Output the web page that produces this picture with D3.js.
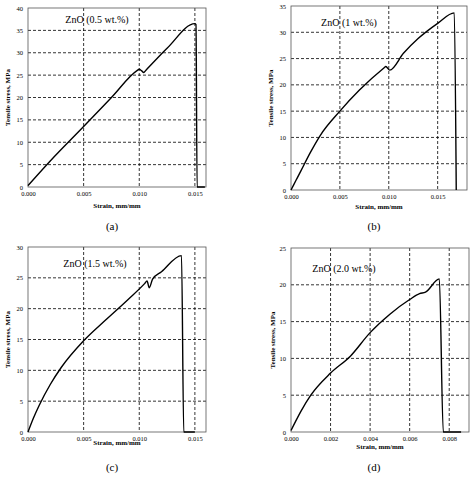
<!DOCTYPE html>
<html><head><meta charset="utf-8">
<script src="https://cdn.jsdelivr.net/npm/d3@7"></script>
<style>body{margin:0;background:#fff}svg text{font-family:"Liberation Serif","DejaVu Serif",serif}</style>
</head><body>
<svg id="c" width="474" height="477"></svg>
<script>
const strainA=[0,0.002,0.005,0.0075,0.0098,0.0100,0.0102,0.0104,0.0106,0.0125,0.0150,0.0151,0.0152,0.0159];
const stressA=[0.3,5.8,13.5,20,26,26.3,26.0,25.6,26.1,31,36.5,36.3,0,0];
const strainB=[0,0.0005,0.001,0.002,0.003,0.005,0.007,0.0095,0.0097,0.0101,0.0115,0.013,0.015,0.0167,0.0169];
const stressB=[0,1.8,3.6,7.2,10.4,15,19,23.2,23.5,22.8,26,28.8,31.7,33.7,0];
const strainC=[0,0.0005,0.001,0.002,0.003,0.005,0.007,0.009,0.0105,0.0107,0.0109,0.0112,0.012,0.0138,0.0140,0.0150];
const stressC=[0,2.3,4.3,7.7,10.5,14.8,18.2,21.5,24.1,24.5,23.4,24.8,26,28.6,0,0];
const strainD=[0,0.0005,0.001,0.002,0.003,0.004,0.005,0.006,0.0065,0.0068,0.0075,0.0077,0.0086];
const stressD=[0.2,2.8,5,8,10.3,13.5,16,18,18.8,19,20.8,0,0];
const xTicksA=[0,0.005,0.010,0.015], xTicksD=[0,0.002,0.004,0.006,0.008];
const titles=["ZnO (0.5 wt.%)","ZnO (1 wt.%)","ZnO (1.5 wt.%)","ZnO (2.0 wt.%)"];
const labels=["(a)","(b)","(c)","(d)"];
const svg=d3.select("#c");
const panels=[
 {xs:strainA,ys:stressA,xd:0.016,yd:40,xt:xTicksA,l:28,r:206,t:8,b:187,ty:23,tx:97,yl:8,xl:208,lab:[112,230]},
 {xs:strainB,ys:stressB,xd:0.018,yd:35,xt:xTicksA,l:291,r:467,t:6,b:190,ty:26,tx:349,yl:271,xl:209,lab:[374,230]},
 {xs:strainC,ys:stressC,xd:0.016,yd:30,xt:xTicksA,l:28,r:206,t:247,b:432,ty:267,tx:95,yl:8,xl:445,lab:[112,471]},
 {xs:strainD,ys:stressD,xd:0.009,yd:25,xt:xTicksD,l:291,r:469,t:248,b:432,ty:272,tx:344,yl:273,xl:449,lab:[374,471]}
];
panels.forEach((p,i)=>{
 const x=d3.scaleLinear().domain([0,p.xd]).range([p.l,p.r]);
 const y=d3.scaleLinear().domain([0,p.yd]).range([p.b,p.t]);
 const g=svg.append("g");
 const yt=d3.range(0,p.yd+0.1,5);
 g.selectAll(".gy").data(yt.slice(1,-1)).join("line").attr("x1",p.l).attr("x2",p.r).attr("y1",d=>y(d)).attr("y2",d=>y(d)).attr("stroke","#000").attr("stroke-width",0.8).attr("stroke-dasharray","3,2");
 g.selectAll(".gx").data(p.xt.slice(1)).join("line").attr("x1",d=>x(d)).attr("x2",d=>x(d)).attr("y1",p.t).attr("y2",p.b).attr("stroke","#000").attr("stroke-width",0.8).attr("stroke-dasharray","3,2");
 g.append("rect").attr("x",p.l).attr("y",p.t).attr("width",p.r-p.l).attr("height",p.b-p.t).attr("fill","none").attr("stroke","#555").attr("stroke-width",0.8);
 const ax=g.append("g").attr("transform",`translate(0,${p.b})`).call(d3.axisBottom(x).tickValues(p.xt).tickFormat(d3.format(".3f")).tickSize(0).tickPadding(4));
 const ay=g.append("g").attr("transform",`translate(${p.l},0)`).call(d3.axisLeft(y).tickValues(yt).tickSize(0).tickPadding(5));
 [ax,ay].forEach(a=>{a.select(".domain").remove();a.selectAll("text").attr("font-size",6.5).attr("font-family","Liberation Serif");});
 g.append("path").datum(p.xs.map((v,k)=>[v,p.ys[k]])).attr("d",d3.line().curve(d3.curveMonotoneX).x(d=>x(d[0])).y(d=>y(d[1]))).attr("fill","none").attr("stroke","#000").attr("stroke-width",1.4);
 g.append("text").attr("x",p.tx).attr("y",p.ty).attr("text-anchor","middle").attr("font-size",10).text(titles[i]);
 g.append("text").attr("transform",`translate(${p.yl},${(p.t+p.b)/2}) rotate(-90)`).attr("text-anchor","middle").attr("font-size",7).attr("font-weight","bold").attr("dy","0.35em").text("Tensile stress, MPa");
 g.append("text").attr("x",(p.l+p.r)/2).attr("y",p.xl).attr("text-anchor","middle").attr("font-size",7).attr("font-weight","bold").text("Strain, mm/mm");
 g.append("text").attr("x",p.lab[0]).attr("y",p.lab[1]).attr("text-anchor","middle").attr("font-size",11).text(labels[i]);
});
</script></body></html>
